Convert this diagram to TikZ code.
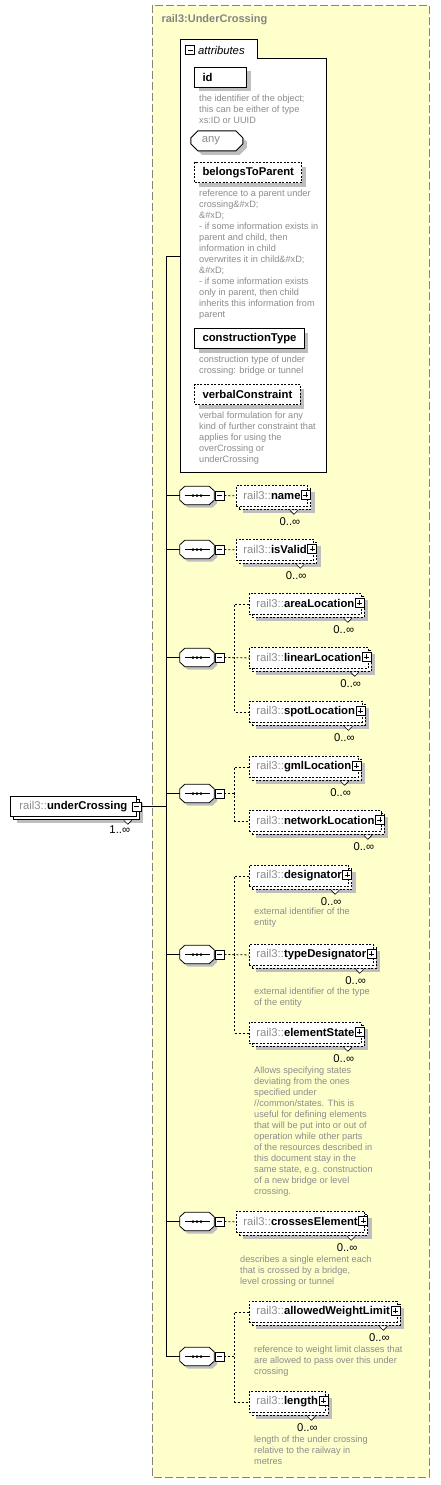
\documentclass[tikz,border=0pt]{standalone}
\usepackage{fontspec}
\setmainfont{Liberation Sans}
\usetikzlibrary{positioning,shapes.misc}

\definecolor{paper}{HTML}{FFFFCC}
\definecolor{framegray}{HTML}{848484}
\definecolor{nsgray}{HTML}{8C8C8C}
\definecolor{docgray}{HTML}{8C8C8C}
\definecolor{shadowgray}{HTML}{BEBEBE}

\newcommand{\qname}[1]{{\color{nsgray}rail3::}\textbf{#1}}
\newcommand{\elem}[3]{%
  \node[elembox] (#1) at (#2) {\qname{#3}\hspace{10pt}};
  \node[plusbox] (#1-x) at ([xshift=-2pt,yshift=1pt]#1.east) {};
  \filldraw[notch] ([xshift=-18pt,yshift=-3.5pt]#1.south east) -- ++(4pt,-4pt) -- ++(4pt,4pt);
  \node[mult] (#1-m) at ([xshift=-18pt,yshift=-15pt]#1.south east) {0..∞};
}
\newcommand{\compositor}[2]{%
  \node[seqbox] (#1) at (197,#2) {};
  \draw[fill=white, line width=0.8pt, gshadow=3pt]
    ([xshift=5pt]#1.north west) -- ([xshift=-5pt]#1.north east) -- ([yshift=-4.5pt]#1.north east)
    -- ([yshift=4.5pt]#1.south east) -- ([xshift=-5pt]#1.south east) -- ([xshift=5pt]#1.south west)
    -- ([yshift=4.5pt]#1.south west) -- ([yshift=-4.5pt]#1.north west) -- cycle;
  \draw[line width=1pt] ([xshift=5pt]#1.west) -- ([xshift=-4pt]#1.east);
  \foreach \d in {-4,0,4} \fill ([xshift=\d pt]#1.center) circle (1.5pt);
  \node[minusbox] (#1-x) at ([xshift=22.5pt]#1.center) {};
  \draw[link] (spine |- #1.west) -- (#1.west);
}

\tikzset{
  lbl/.style={font=\fontsize{11.3}{13}\selectfont},
  gshadow/.style={preaction={fill=shadowgray, transform canvas={xshift=#1, yshift=-#1}}},
  gshadow/.default=4pt,
  fine/.style={dash pattern=on 2pt off 1.5pt},
  backcopy/.style={preaction={draw, fill=white, transform canvas={xshift=3pt, yshift=-3pt}}},
  elembox/.style={lbl, draw, fill=white, line width=0.8pt, fine, anchor=north west,
    minimum height=21pt, inner xsep=7pt, inner ysep=0pt, gshadow=7pt, backcopy},
  ucbox/.style={lbl, draw, fill=white, line width=0.8pt, anchor=north west,
    minimum height=20pt, inner xsep=9pt, inner ysep=0pt, gshadow=7pt, backcopy},
  attbox/.style={lbl, draw, fill=white, line width=1pt, anchor=north west,
    minimum height=20pt, inner xsep=8pt, inner ysep=0pt, gshadow},
  attopt/.style={attbox, fine},
  anybox/.style={attbox, chamfered rectangle, chamfered rectangle xsep=3pt, chamfered rectangle ysep=4pt, text=nsgray},
  doc/.style={font=\fontsize{9.2}{11}\selectfont, text=docgray, align=left, anchor=north west, inner sep=0pt},
  mult/.style={lbl, inner sep=0pt},
  notch/.style={fill=white, line width=0.6pt},
  seqbox/.style={minimum width=34pt, minimum height=18pt, inner sep=0pt},
  minusbox/.style={draw, fill=white, solid, line width=0.6pt, minimum size=9pt, inner sep=0pt,
    path picture={\draw[line width=0.6pt] ([xshift=2pt]path picture bounding box.west) -- ([xshift=-2pt]path picture bounding box.east);}},
  plusbox/.style={minusbox,
    path picture={\draw[line width=0.6pt] ([xshift=2pt]path picture bounding box.west) -- ([xshift=-2pt]path picture bounding box.east);
      \draw[line width=0.6pt] ([yshift=2pt]path picture bounding box.south) -- ([yshift=-2pt]path picture bounding box.north);}},
  link/.style={line width=0.8pt},
  optlink/.style={line width=0.8pt, dash pattern=on 2pt off 2pt},
}

\begin{document}
\begin{tikzpicture}[x=1pt, y=-1pt]
\useasboundingbox (0,0) rectangle (440,1485);
\draw[framegray, line width=0.8pt, dash pattern=on 8pt off 3pt, fill=paper] (152,5) rectangle (429,1477);
\node[anchor=west, text=framegray, font=\fontsize{11}{13}\selectfont\bfseries] (title) at (158,20) {rail3:UnderCrossing};

\draw[fill=white, line width=0.8pt] (180,472) |- (257,39) |- (326,58) |- (180,472) -- cycle;
\node[minusbox] (attr-x) at (190,50) {};
\node[anchor=west, font=\fontsize{11.3}{13}\selectfont\itshape, inner sep=0pt] (attr) at (198,50) {attributes};
\coordinate (attr-w) at (180,256);

\node[attbox, text width=36pt] (id) at (194,67) {\textbf{id}};
\node[doc] (id-doc) at (199,95) {the identifier of the object;\\this can be either of type\\xs:ID or UUID};
\node[anybox, text width=30pt] (any) at (194,134) {any};
\node[attopt] (btp) at (194,162) {\textbf{belongsToParent}};
\node[doc] (btp-doc) at (199,190) {reference to a parent under\\crossing\&\#xD;\\\&\#xD;\\- if some information exists in\\parent and child, then\\information in child\\overwrites it in child\&\#xD;\\\&\#xD;\\- if some information exists\\only in parent, then child\\inherits this information from\\parent};
\node[attbox] (ctype) at (194,328) {\textbf{constructionType}};
\node[doc] (ctype-doc) at (199,356) {construction type of under\\crossing: bridge or tunnel};
\node[attopt] (vc) at (194,384) {\textbf{verbalConstraint}};
\node[doc] (vc-doc) at (199,412) {verbal formulation for any\\kind of further constraint that\\applies for using the\\overCrossing or\\underCrossing};

\coordinate (spine) at (166,256);
\draw[link] (spine) -- (attr-w);
\compositor{seq1}{495.5}
\compositor{seq2}{549.5}
\compositor{seq3}{657.5}
\compositor{seq4}{793.5}
\compositor{seq5}{954.5}
\compositor{seq6}{1221.5}
\compositor{seq7}{1356.5}
\draw[link] (spine) -- (spine |- seq7.west);

\node[ucbox] (uc) at (10,796) {\qname{underCrossing}\hspace{3pt}};
\node[minusbox] (uc-x) at (uc.east) {};
\filldraw[notch] ([xshift=-13pt,yshift=-3.5pt]uc.south east) -- ++(4pt,-4pt) -- ++(4pt,4pt);
\node[mult] (uc-m) at ([xshift=-17pt,yshift=-13pt]uc.south east) {1..∞};
\draw[link] (uc-x.east) -- (spine |- uc-x.east);

\elem{name}{236,485}{name}
\elem{isValid}{236,539}{isValid}
\elem{areaLoc}{249,593}{areaLocation}
\elem{linearLoc}{249,647}{linearLocation}
\elem{spotLoc}{249,701}{spotLocation}
\elem{gmlLoc}{249,756}{gmlLocation}
\elem{netLoc}{249,810}{networkLocation}
\elem{desig}{249,865}{designator}
\elem{typeDesig}{249,944}{typeDesignator}
\elem{elemState}{249,1022}{elementState}
\elem{crosses}{236,1211}{crossesElement}
\elem{weight}{249,1301}{allowedWeightLimit}
\elem{length}{249,1391}{length}

\node[doc] (desig-doc) at (254,908) {external identifier of the\\entity};
\node[doc] (typeDesig-doc) at (254,988) {external identifier of the type\\of the entity};
\node[doc] (elemState-doc) at (254,1067) {Allows specifying states\\deviating from the ones\\specified under\\//common/states. This is\\useful for defining elements\\that will be put into or out of\\operation while other parts\\of the resources described in\\this document stay in the\\same state, e.g. construction\\of a new bridge or level\\crossing.};
\node[doc] (crosses-doc) at (240,1256) {describes a single element each\\that is crossed by a bridge,\\level crossing or tunnel};
\node[doc] (weight-doc) at (254,1346) {reference to weight limit classes that\\are allowed to pass over this under\\crossing};
\node[doc] (length-doc) at (254,1436) {length of the under crossing\\relative to the railway in\\metres};

\draw[optlink] (seq1-x.east) -- (name.west);
\draw[optlink] (seq2-x.east) -- (isValid.west);
\coordinate (j3) at ([xshift=10pt]seq3-x.east);
\draw[optlink] (seq3-x.east) -- (linearLoc.west);
\draw[optlink] (areaLoc.west) -| (j3) |- (spotLoc.west);
\coordinate (j4) at ([xshift=10pt]seq4-x.east);
\draw[optlink] (seq4-x.east) -- (j4);
\draw[optlink] (gmlLoc.west) -| (j4) |- (netLoc.west);
\coordinate (j5) at ([xshift=10pt]seq5-x.east);
\draw[optlink] (seq5-x.east) -- (typeDesig.west);
\draw[optlink] (desig.west) -| (j5) |- (elemState.west);
\draw[optlink] (seq6-x.east) -- (crosses.west);
\coordinate (j7) at ([xshift=10pt]seq7-x.east);
\draw[optlink] (seq7-x.east) -- (j7);
\draw[optlink] (weight.west) -| (j7) |- (length.west);
\end{tikzpicture}
\end{document}
